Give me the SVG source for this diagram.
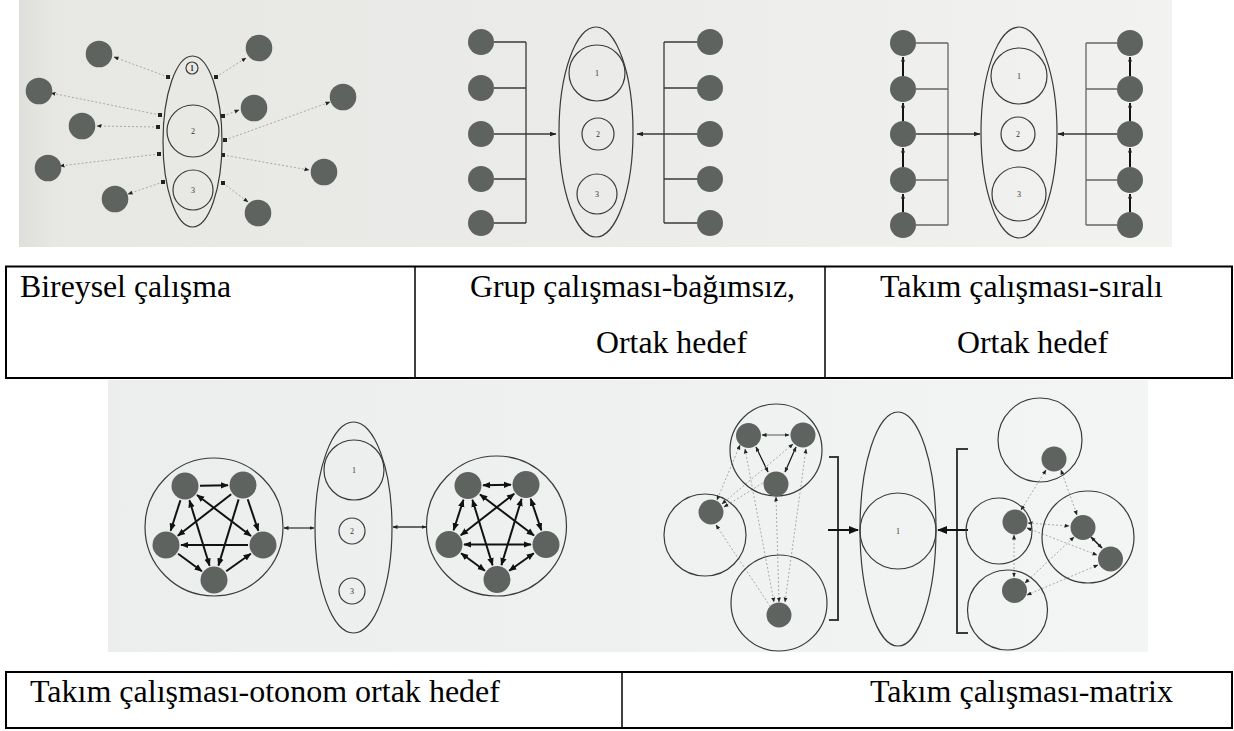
<svg xmlns="http://www.w3.org/2000/svg" width="1234" height="731" viewBox="0 0 1234 731">
<defs>
<linearGradient id="bgTop" x1="0" y1="0" x2="1" y2="0">
<stop offset="0" stop-color="#dededb"/><stop offset="0.03" stop-color="#e7e7e4"/><stop offset="0.5" stop-color="#ebebe9"/><stop offset="1" stop-color="#f2f2f0"/>
</linearGradient>
<linearGradient id="bgBot" x1="0" y1="0" x2="1" y2="0">
<stop offset="0" stop-color="#eceeee"/><stop offset="0.5" stop-color="#eff1f1"/><stop offset="1" stop-color="#f3f4f4"/>
</linearGradient>
<marker id="ahS" viewBox="0 0 10 10" refX="9" refY="5" markerWidth="5" markerHeight="5" markerUnits="userSpaceOnUse" orient="auto-start-reverse"><path d="M0,1 L10,5 L0,9 z" fill="#222"/></marker>
<marker id="ahM" viewBox="0 0 10 10" refX="9" refY="5" markerWidth="7" markerHeight="7" markerUnits="userSpaceOnUse" orient="auto-start-reverse"><path d="M0,1.5 L10,5 L0,8.5 z" fill="#222"/></marker>
<marker id="ahB" viewBox="0 0 10 10" refX="9" refY="5" markerWidth="8" markerHeight="8" markerUnits="userSpaceOnUse" orient="auto-start-reverse"><path d="M0,1 L10,5 L0,9 z" fill="#111"/></marker>
<marker id="ahL" viewBox="0 0 10 10" refX="9" refY="5" markerWidth="10" markerHeight="10" markerUnits="userSpaceOnUse" orient="auto-start-reverse"><path d="M0,1 L10,5 L0,9 z" fill="#111"/></marker>
<marker id="sq" viewBox="0 0 10 10" refX="5" refY="5" markerWidth="4" markerHeight="4" markerUnits="userSpaceOnUse"><rect x="0" y="0" width="10" height="10" fill="#222"/></marker>
</defs>
<style>
.dot{fill:#5e635f}
.out{fill:none;stroke:#3a3a3a;stroke-width:1.2}
.thin{fill:none;stroke:#555;stroke-width:1}
.bus{fill:none;stroke:#3a3a3a;stroke-width:1.3}
.dash{fill:none;stroke:#a0a0a0;stroke-width:0.9;stroke-dasharray:2 2}
.bold{fill:none;stroke:#111;stroke-width:2}
.num{font-size:8px;fill:#333;text-anchor:middle}
.lbl{font-size:32px;fill:#000}
.tb{fill:none;stroke:#000;stroke-width:2}
.tv{stroke:#000;stroke-width:1.5}
</style>
<rect width="1234" height="731" fill="#fff"/>
<rect x="19" y="0" width="1153" height="247" fill="url(#bgTop)"/>
<rect x="108" y="380" width="1040" height="272" fill="url(#bgBot)"/>

<g id="connectors">
<g id="c-bireysel" class="dash">
<line x1="168" y1="77" x2="114" y2="57" marker-start="url(#sq)" marker-end="url(#ahS)"/>
<line x1="160" y1="115" x2="51" y2="93" marker-start="url(#sq)" marker-end="url(#ahS)"/>
<line x1="158" y1="127" x2="97" y2="126" marker-start="url(#sq)" marker-end="url(#ahS)"/>
<line x1="159" y1="154" x2="60" y2="166" marker-start="url(#sq)" marker-end="url(#ahS)"/>
<line x1="163" y1="182" x2="128" y2="194" marker-start="url(#sq)" marker-end="url(#ahS)"/>
<line x1="216" y1="77" x2="246" y2="58" marker-start="url(#sq)" marker-end="url(#ahS)"/>
<line x1="223" y1="116" x2="239" y2="110" marker-start="url(#sq)" marker-end="url(#ahS)"/>
<line x1="225" y1="140" x2="330" y2="102" marker-start="url(#sq)" marker-end="url(#ahS)"/>
<line x1="223" y1="155" x2="309" y2="170" marker-start="url(#sq)" marker-end="url(#ahS)"/>
<line x1="223" y1="183" x2="248" y2="202" marker-start="url(#sq)" marker-end="url(#ahS)"/>
</g>
<g id="c-grup" class="bus">
<path d="M494,42 H526 M494,88 H526 M494,179 H526 M494,223 H526 M526,42 V223"/>
<line x1="494" y1="134" x2="556" y2="134" marker-end="url(#ahM)"/>
<path d="M697,42 H664 M697,88 H664 M697,179 H664 M697,223 H664 M664,42 V223"/>
<line x1="697" y1="134" x2="637" y2="134" marker-end="url(#ahM)"/>
</g>
<g id="c-sirali">
<path class="bus" style="stroke:#666" d="M916,43 H948 M916,89 H948 M916,180 H948 M916,225 H948 M948,43 V225"/>
<line class="bus" x1="916" y1="134" x2="980" y2="134" marker-end="url(#ahM)"/>
<path class="bus" style="stroke:#666" d="M1117,43 H1086 M1117,89 H1086 M1117,180 H1086 M1117,225 H1086 M1086,43 V225"/>
<line class="bus" x1="1117" y1="134" x2="1058" y2="134" marker-end="url(#ahM)"/>
<g class="bold">
<line x1="903" y1="212" x2="903" y2="194" marker-end="url(#ahS)"/>
<line x1="903" y1="167" x2="903" y2="148" marker-end="url(#ahS)"/>
<line x1="903" y1="121" x2="903" y2="103" marker-end="url(#ahS)"/>
<line x1="903" y1="76" x2="903" y2="57" marker-end="url(#ahS)"/>
<line x1="1130" y1="212" x2="1130" y2="194" marker-end="url(#ahS)"/>
<line x1="1130" y1="167" x2="1130" y2="148" marker-end="url(#ahS)"/>
<line x1="1130" y1="121" x2="1130" y2="103" marker-end="url(#ahS)"/>
<line x1="1130" y1="76" x2="1130" y2="57" marker-end="url(#ahS)"/>
</g>
</g>
<g id="c-otonom">
<g id="pentaL" class="bold">
<line x1="200" y1="485.7" x2="228" y2="485.3" marker-end="url(#ahB)"/>
<line x1="180.4" y1="500.3" x2="170.6" y2="530.7" marker-end="url(#ahB)"/>
<line x1="247.7" y1="499.2" x2="258.3" y2="530.8" marker-end="url(#ahB)"/>
<line x1="248" y1="545" x2="181" y2="545" marker-end="url(#ahB)"/>
<line x1="178.1" y1="553.8" x2="201.9" y2="571.2" marker-end="url(#ahB)"/>
<line x1="226.2" y1="571.3" x2="250.8" y2="553.7" marker-end="url(#ahB)"/>
<line x1="197" y1="495" x2="251" y2="536" marker-start="url(#ahB)" marker-end="url(#ahB)"/>
<line x1="231.2" y1="494.2" x2="177.8" y2="535.8" marker-end="url(#ahB)"/>
<line x1="189.4" y1="500.3" x2="209.6" y2="565.7" marker-start="url(#ahB)" marker-end="url(#ahB)"/>
<line x1="238.6" y1="499.4" x2="218.4" y2="565.6" marker-end="url(#ahB)"/>
</g>
<g id="pentaR" class="bold" transform="translate(283,-0.5)">
<line x1="200" y1="485.7" x2="228" y2="485.3" marker-start="url(#ahB)" marker-end="url(#ahB)"/>
<line x1="180.4" y1="500.3" x2="170.6" y2="530.7" marker-start="url(#ahB)" marker-end="url(#ahB)"/>
<line x1="247.7" y1="499.2" x2="258.3" y2="530.8" marker-start="url(#ahB)" marker-end="url(#ahB)"/>
<line x1="248" y1="545" x2="181" y2="545" marker-start="url(#ahB)" marker-end="url(#ahB)"/>
<line x1="178.1" y1="553.8" x2="201.9" y2="571.2" marker-start="url(#ahB)" marker-end="url(#ahB)"/>
<line x1="226.2" y1="571.3" x2="250.8" y2="553.7" marker-start="url(#ahB)" marker-end="url(#ahB)"/>
<line x1="197" y1="495" x2="251" y2="536" marker-start="url(#ahB)" marker-end="url(#ahB)"/>
<line x1="231.2" y1="494.2" x2="177.8" y2="535.8" marker-start="url(#ahB)" marker-end="url(#ahB)"/>
<line x1="189.4" y1="500.3" x2="209.6" y2="565.7" marker-start="url(#ahB)" marker-end="url(#ahB)"/>
<line x1="238.6" y1="499.4" x2="218.4" y2="565.6" marker-start="url(#ahB)" marker-end="url(#ahB)"/>
</g>
<line class="bus" x1="284" y1="528" x2="314" y2="528" marker-start="url(#ahS)" marker-end="url(#ahS)"/>
<line class="bus" x1="393" y1="527" x2="426" y2="527" marker-start="url(#ahS)" marker-end="url(#ahS)"/>
</g>
<g id="c-matrix">
<path class="bus" d="M829,457 H838 V620 H829" style="stroke-width:2"/>
<line class="bold" x1="828" y1="530" x2="858" y2="530" marker-end="url(#ahL)"/>
<path class="bus" d="M968,449 H957 V633 H968" style="stroke-width:2"/>
<line class="bold" x1="968" y1="530" x2="938" y2="530" marker-end="url(#ahL)"/>
<line class="thin" x1="762" y1="435" x2="789" y2="435" marker-start="url(#ahS)" marker-end="url(#ahS)"/>
<line class="bold" style="stroke-width:1.2" x1="756" y1="447" x2="768" y2="472" marker-start="url(#ahS)" marker-end="url(#ahS)"/>
<line class="bold" style="stroke-width:1.2" x1="796" y1="447" x2="785" y2="472" marker-start="url(#ahS)" marker-end="url(#ahS)"/>
<g class="dash">
<line x1="745" y1="449" x2="774" y2="602" marker-start="url(#ahS)" marker-end="url(#ahS)"/>
<line x1="776" y1="497" x2="779" y2="602" marker-start="url(#ahS)" marker-end="url(#ahS)"/>
<line x1="806" y1="449" x2="785" y2="602" marker-start="url(#ahS)" marker-end="url(#ahS)"/>
<line x1="716" y1="525" x2="770" y2="606" marker-start="url(#ahS)"/>
<line x1="740" y1="445" x2="717" y2="500" marker-start="url(#ahS)" marker-end="url(#ahS)"/>
<line x1="793" y1="444" x2="722" y2="504" marker-start="url(#ahS)" marker-end="url(#ahS)"/>
<line x1="766" y1="481" x2="724" y2="507" marker-end="url(#ahS)"/>
<line x1="1046" y1="470" x2="1021" y2="510" marker-start="url(#ahS)" marker-end="url(#ahS)"/>
<line x1="1061" y1="470" x2="1077" y2="515" marker-start="url(#ahS)" marker-end="url(#ahS)"/>
<line x1="1028" y1="523" x2="1069" y2="526" marker-start="url(#ahS)" marker-end="url(#ahS)"/>
<line x1="1014" y1="535" x2="1014" y2="577" marker-start="url(#ahS)" marker-end="url(#ahS)"/>
<line x1="1027" y1="528" x2="1097" y2="555" marker-start="url(#ahS)" marker-end="url(#ahS)"/>
<line x1="1025" y1="583" x2="1074" y2="537" marker-start="url(#ahS)" marker-end="url(#ahS)"/>
<line x1="1027" y1="595" x2="1098" y2="565" marker-start="url(#ahS)" marker-end="url(#ahS)"/>
</g>
<line class="bold" style="stroke-width:1.5" x1="1091" y1="537" x2="1102" y2="548" marker-start="url(#ahS)" marker-end="url(#ahS)"/>
</g>
</g>

<g id="panel-bireysel" font-family="'Liberation Serif', 'Times New Roman', serif">
<g id="b-goal"><ellipse class="out" cx="192.5" cy="141.5" rx="29.5" ry="85.5"/>
<circle class="out" cx="192" cy="68" r="6"/><text class="num" x="192" y="71" font-weight="bold">1</text>
<circle class="out" cx="193" cy="131" r="26"/><text class="num" x="193" y="134">2</text>
<circle class="out" cx="193" cy="190" r="20"/><text class="num" x="193" y="193">3</text></g>
<g id="b-d1"><circle class="dot" cx="99" cy="54" r="13.3"/></g>
<g id="b-d2"><circle class="dot" cx="39" cy="91" r="13.3"/></g>
<g id="b-d3"><circle class="dot" cx="82" cy="126" r="13.3"/></g>
<g id="b-d4"><circle class="dot" cx="48" cy="168" r="13.3"/></g>
<g id="b-d5"><circle class="dot" cx="115" cy="199" r="13.3"/></g>
<g id="b-d6"><circle class="dot" cx="259" cy="48" r="13.3"/></g>
<g id="b-d7"><circle class="dot" cx="254" cy="108" r="13.3"/></g>
<g id="b-d8"><circle class="dot" cx="343" cy="97" r="13.3"/></g>
<g id="b-d9"><circle class="dot" cx="324" cy="172" r="13.3"/></g>
<g id="b-d10"><circle class="dot" cx="258" cy="213" r="13.3"/></g>
</g>

<g id="panel-grup" font-family="'Liberation Serif', 'Times New Roman', serif">
<g id="g-goal"><ellipse class="out" cx="596" cy="132" rx="37" ry="105"/>
<circle class="out" cx="597" cy="73" r="28"/><text class="num" x="597" y="76">1</text>
<circle class="out" cx="598" cy="134" r="16"/><text class="num" x="598" y="137">2</text>
<circle class="out" cx="597" cy="194" r="20"/><text class="num" x="597" y="197">3</text></g>
<g id="g-l1"><circle class="dot" cx="481" cy="42" r="13"/></g>
<g id="g-l2"><circle class="dot" cx="481" cy="88" r="13"/></g>
<g id="g-l3"><circle class="dot" cx="481" cy="134" r="13"/></g>
<g id="g-l4"><circle class="dot" cx="481" cy="179" r="13"/></g>
<g id="g-l5"><circle class="dot" cx="481" cy="223" r="13"/></g>
<g id="g-r1"><circle class="dot" cx="710" cy="42" r="13"/></g>
<g id="g-r2"><circle class="dot" cx="710" cy="88" r="13"/></g>
<g id="g-r3"><circle class="dot" cx="710" cy="134" r="13"/></g>
<g id="g-r4"><circle class="dot" cx="710" cy="179" r="13"/></g>
<g id="g-r5"><circle class="dot" cx="710" cy="223" r="13"/></g>
</g>

<g id="panel-sirali" font-family="'Liberation Serif', 'Times New Roman', serif">
<g id="s-goal"><ellipse class="out" cx="1019" cy="132.5" rx="38" ry="105.5"/>
<circle class="out" cx="1019" cy="76" r="28"/><text class="num" x="1019" y="79">1</text>
<circle class="out" cx="1018" cy="134" r="17"/><text class="num" x="1018" y="137">2</text>
<circle class="out" cx="1019" cy="194" r="27"/><text class="num" x="1019" y="197">3</text></g>
<g id="s-l1"><circle class="dot" cx="903" cy="43" r="13"/></g>
<g id="s-l2"><circle class="dot" cx="903" cy="89" r="13"/></g>
<g id="s-l3"><circle class="dot" cx="903" cy="134" r="13"/></g>
<g id="s-l4"><circle class="dot" cx="903" cy="180" r="13"/></g>
<g id="s-l5"><circle class="dot" cx="903" cy="225" r="13"/></g>
<g id="s-r1"><circle class="dot" cx="1130" cy="43" r="13"/></g>
<g id="s-r2"><circle class="dot" cx="1130" cy="89" r="13"/></g>
<g id="s-r3"><circle class="dot" cx="1130" cy="134" r="13"/></g>
<g id="s-r4"><circle class="dot" cx="1130" cy="180" r="13"/></g>
<g id="s-r5"><circle class="dot" cx="1130" cy="225" r="13"/></g>
</g>

<g id="panel-otonom" font-family="'Liberation Serif', 'Times New Roman', serif">
<g id="o-teamL"><circle class="out" cx="214" cy="527" r="69"/>
<circle class="dot" cx="185" cy="486" r="13.5"/><circle class="dot" cx="243" cy="485" r="13.5"/>
<circle class="dot" cx="166" cy="545" r="13.5"/><circle class="dot" cx="263" cy="545" r="13.5"/>
<circle class="dot" cx="214" cy="580" r="13.5"/></g>
<g id="o-goal"><ellipse class="out" cx="353.5" cy="527.5" rx="38.5" ry="105.5"/>
<circle class="out" cx="354" cy="470" r="30"/><text class="num" x="354" y="473">1</text>
<circle class="out" cx="352" cy="531" r="13"/><text class="num" x="352" y="534">2</text>
<circle class="out" cx="352" cy="591" r="13"/><text class="num" x="352" y="594">3</text></g>
<g id="o-teamR"><circle class="out" cx="496.5" cy="526" r="70"/>
<g transform="translate(283,-0.5)">
<circle class="dot" cx="185" cy="486" r="13.5"/><circle class="dot" cx="243" cy="485" r="13.5"/>
<circle class="dot" cx="166" cy="545" r="13.5"/><circle class="dot" cx="263" cy="545" r="13.5"/>
<circle class="dot" cx="214" cy="580" r="13.5"/></g></g>
</g>

<g id="panel-matrix" font-family="'Liberation Serif', 'Times New Roman', serif">
<g id="m-grpA"><circle class="out" cx="776" cy="450" r="46"/>
<circle class="dot" cx="748.5" cy="435.5" r="12.5"/><circle class="dot" cx="803" cy="435" r="12.5"/><circle class="dot" cx="776" cy="484" r="12.5"/></g>
<g id="m-grpB"><circle class="out" cx="705" cy="535" r="41"/><circle class="dot" cx="711" cy="512" r="12.5"/></g>
<g id="m-grpC"><circle class="out" cx="779" cy="603" r="48"/><circle class="dot" cx="779" cy="615" r="12.5"/></g>
<g id="m-goal"><ellipse class="out" cx="898" cy="529" rx="38" ry="117"/>
<circle class="out" cx="898" cy="531" r="38"/><text class="num" x="898" y="534">1</text></g>
<g id="m-grpD"><circle class="out" cx="1040" cy="440" r="42"/><circle class="dot" cx="1054" cy="459" r="12.5"/></g>
<g id="m-grpE"><circle class="out" cx="999" cy="531" r="33"/><circle class="dot" cx="1015" cy="522" r="12.5"/></g>
<g id="m-grpF"><circle class="out" cx="1088" cy="537" r="46"/><circle class="dot" cx="1083" cy="527.5" r="12.5"/><circle class="dot" cx="1110.5" cy="559" r="12.5"/></g>
<g id="m-grpG"><circle class="out" cx="1007.5" cy="610" r="40"/><circle class="dot" cx="1014.5" cy="590.5" r="12.5"/></g>
</g>

<g id="table1" font-family="'Liberation Serif', 'Times New Roman', serif">
<rect class="tb" x="6" y="266.5" width="1226" height="111.5"/>
<line class="tv" x1="415" y1="266.5" x2="415" y2="378"/>
<line class="tv" x1="825" y1="266.5" x2="825" y2="378"/>
<text class="lbl" x="20" y="297" textLength="211" lengthAdjust="spacingAndGlyphs">Bireysel çalışma</text>
<text class="lbl" x="470" y="297" textLength="325" lengthAdjust="spacingAndGlyphs">Grup çalışması-bağımsız,</text>
<text class="lbl" x="596" y="353" textLength="151" lengthAdjust="spacingAndGlyphs">Ortak hedef</text>
<text class="lbl" x="880" y="297" textLength="283" lengthAdjust="spacingAndGlyphs">Takım çalışması-sıralı</text>
<text class="lbl" x="957" y="353" textLength="151" lengthAdjust="spacingAndGlyphs">Ortak hedef</text>
</g>
<g id="table2" font-family="'Liberation Serif', 'Times New Roman', serif">
<rect class="tb" x="6" y="672" width="1226" height="56"/>
<line class="tv" x1="622" y1="672" x2="622" y2="728"/>
<text class="lbl" x="30" y="702" textLength="470" lengthAdjust="spacingAndGlyphs">Takım çalışması-otonom ortak hedef</text>
<text class="lbl" x="870" y="702" textLength="303" lengthAdjust="spacingAndGlyphs">Takım çalışması-matrix</text>
</g>
</svg>
